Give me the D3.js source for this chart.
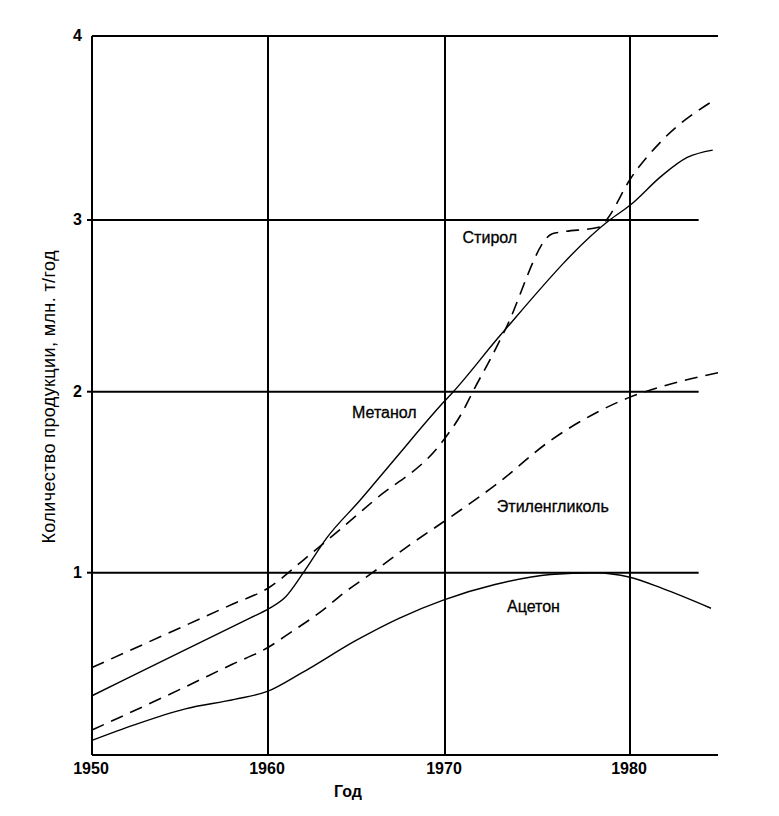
<!DOCTYPE html>
<html>
<head>
<meta charset="utf-8">
<script src="https://cdn.jsdelivr.net/npm/d3@7.9.0/dist/d3.min.js"></script>
<style>
  body { margin: 0; background: #fff; }
  svg { display: block; }
  .tick-label { font-family: "Liberation Sans", Arial, sans-serif; font-weight: bold; font-size: 16px; }
  .axis-title { font-family: "Liberation Sans", Arial, sans-serif; font-size: 18px; }
  .series-label { font-family: "Liberation Sans", Arial, sans-serif; font-size: 16px; stroke: #000; stroke-width: 0.3px; }
</style>
</head>
<body>
<svg id="chart" width="779" height="816"></svg>
<script>
// ---- data ----
const xTicks = [1950, 1960, 1970, 1980];
const yTicks = [1, 2, 3, 4];

const styreneYears = [1950, 1958, 1960, 1962, 1966, 1969.9, 1970.9, 1971.6, 1972.5, 1973.25, 1975.8, 1976.3, 1978.4, 1978.8, 1980, 1981.8, 1984.75];
const styrene      = [0.48, 0.828, 0.915, 1.07, 1.40, 1.73, 1.88, 2.02, 2.2, 2.36, 2.92, 2.93, 2.96, 3.01, 3.22, 3.43, 3.65];

const methanolYears = [1950, 1955, 1959, 1960, 1961, 1962, 1963.3, 1965.2, 1967.1, 1969.9, 1970.45, 1973, 1978.9, 1980, 1981.8, 1983.25, 1984.7];
const methanol      = [0.325, 0.5625, 0.7525, 0.8, 0.868, 1.0, 1.19, 1.40, 1.62, 1.94, 2.0, 2.33, 3.0, 3.08, 3.24, 3.34, 3.38];

const glycolYears = [1950, 1955, 1958, 1960, 1961.2, 1963.1, 1964.3, 1965.9, 1968.1, 1969.9, 1972.8, 1975.7, 1978.1, 1980, 1981.8, 1985];
const glycol      = [0.137, 0.36, 0.499, 0.59, 0.667, 0.795, 0.89, 1.0, 1.16, 1.28, 1.49, 1.73, 1.88, 1.97, 2.03, 2.11];

const acetoneYears = [1950, 1952.4, 1955.3, 1958.1, 1960, 1961.9, 1965, 1967.4, 1969.9, 1972.7, 1975.7, 1978.1, 1980, 1981.8, 1984.6];
const acetone      = [0.08, 0.165, 0.253, 0.305, 0.35, 0.45, 0.63, 0.75, 0.85, 0.935, 0.99, 1.0, 0.975, 0.915, 0.805];

const seriesNames = ['Стирол', 'Метанол', 'Этиленгликоль', 'Ацетон'];
const labelYears  = [1970.95, 1964.75, 1972.8, 1973.35];
const labelValues = [2.865, 1.855, 1.333, 0.785];

// ---- scales (the scan's grid is slightly uneven, so piecewise) ----
const svg = d3.select('#chart');
const x = d3.scaleLinear().domain([1950, 1960, 1970, 1980, 1985]).range([92, 268, 445, 630, 718]);
const y = d3.scaleLinear().domain([0, 1, 2, 3, 4]).range([755, 572.7, 391.7, 220, 36]);

const grid = svg.append('g').attr('stroke', '#000').attr('stroke-width', 2);

// horizontal grid lines
grid.selectAll('line.h')
  .data(yTicks)
  .join('line')
  .attr('class', 'h')
  .attr('x1', x(1950))
  .attr('x2', d => d === 4 ? x(1985) : x(1983.9))
  .attr('y1', d => y(d))
  .attr('y2', d => y(d));

// small ticks left of axis
grid.selectAll('line.t')
  .data(yTicks.slice(0, 3))
  .join('line')
  .attr('class', 't')
  .attr('x1', x(1950) - 5)
  .attr('x2', x(1950))
  .attr('y1', d => y(d))
  .attr('y2', d => y(d));

// vertical grid lines + left axis
grid.selectAll('line.v')
  .data(xTicks)
  .join('line')
  .attr('class', 'v')
  .attr('x1', d => x(d))
  .attr('x2', d => x(d))
  .attr('y1', y(4))
  .attr('y2', y(0));

// bottom axis
grid.append('line')
  .attr('x1', x(1950)).attr('x2', x(1985))
  .attr('y1', y(0)).attr('y2', y(0));

// tick labels
svg.selectAll('text.xt')
  .data(xTicks)
  .join('text')
  .attr('class', 'tick-label xt')
  .attr('x', d => x(d) - 1)
  .attr('y', y(0) + 19)
  .attr('text-anchor', 'middle')
  .text(d => d);

svg.selectAll('text.yt')
  .data(yTicks)
  .join('text')
  .attr('class', 'tick-label yt')
  .attr('x', x(1950) - 10)
  .attr('y', d => y(d) + 5)
  .attr('text-anchor', 'end')
  .text(d => d);

svg.append('text')
  .attr('class', 'tick-label')
  .attr('x', 348)
  .attr('y', 797)
  .attr('text-anchor', 'middle')
  .text('Год');

svg.append('text')
  .attr('class', 'axis-title')
  .attr('transform', 'translate(55,397) rotate(-90)')
  .attr('text-anchor', 'middle')
  .attr('textLength', 293)
  .attr('lengthAdjust', 'spacing')
  .text('Количество продукции, млн. т/год');

// ---- curves ----
const line = d3.line()
  .x(d => x(d[0]))
  .y(d => y(d[1]))
  .curve(d3.curveMonotoneX);

const series = [
  { years: styreneYears, values: styrene, dashed: true },
  { years: methanolYears, values: methanol, dashed: false },
  { years: glycolYears, values: glycol, dashed: true },
  { years: acetoneYears, values: acetone, dashed: false }
];

svg.append('g')
  .selectAll('path')
  .data(series)
  .join('path')
  .attr('fill', 'none')
  .attr('stroke', '#000')
  .attr('stroke-width', d => d.dashed ? 1.6 : 1.4)
  .attr('stroke-dasharray', d => d.dashed ? '13,8' : null)
  .attr('d', d => line(d3.zip(d.years, d.values)));

svg.selectAll('text.sl')
  .data(seriesNames)
  .join('text')
  .attr('class', 'series-label sl')
  .attr('x', (_d, i) => x(labelYears[i]))
  .attr('y', (_d, i) => y(labelValues[i]))
  .text(d => d);
</script>
</body>
</html>
